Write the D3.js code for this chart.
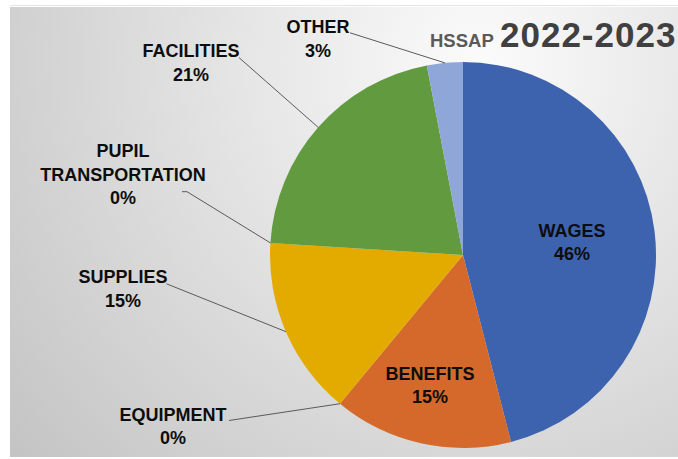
<!DOCTYPE html>
<html>
<head>
<meta charset="utf-8">
<script src="https://cdn.jsdelivr.net/npm/d3@7"></script>
<style>
  html, body { margin: 0; padding: 0; background: #ffffff; }
  svg { display: block; }
  .lbl { font-family: "Liberation Sans", Arial, sans-serif; font-weight: bold; font-size: 18px; fill: #0d0d0d; }
</style>
</head>
<body>
<svg id="chart" width="678" height="459"></svg>
<script>
// Budget categories, clockwise from 12 o'clock
const categories = ["WAGES", "BENEFITS", "EQUIPMENT", "SUPPLIES", "PUPIL TRANSPORTATION", "FACILITIES", "OTHER"];
// Share of the budget, percent
const shares = [46, 15, 0, 15, 0, 21, 3];
const sliceColors = ["#3d63ae", "#d4692b", "#a5a5a5", "#e3aa00", "#5b9bd5", "#629b3f", "#8ea6d8"];
const titleParts = ["HSSAP", "2022-2023"];

const W = 678, H = 459;
const cx = 463, cy = 255, R = 193;

// Label placement: anchor (centre x, first baseline), wrapped lines,
// and where the leader line leaves the label (relative to the anchor).
const labelLayout = {
  "WAGES":                { x: 572, y: 236.5, inside: true },
  "BENEFITS":             { x: 430, y: 380,   inside: true },
  "EQUIPMENT":            { x: 173, y: 420.5, lead: [56, 0] },
  "SUPPLIES":             { x: 123, y: 283.3, lead: [43.5, 0.5] },
  "PUPIL TRANSPORTATION": { x: 123, y: 157.3, lines: ["PUPIL", "TRANSPORTATION"], lead: [59, 34.4], elbow: 5 },
  "FACILITIES":           { x: 191, y: 57.3,  lead: [48, 0.3] },
  "OTHER":                { x: 318, y: 33.3,  lead: [32, -0.5] }
};
const lineGap = 23.4;

const svg = d3.select("#chart");

// Background panel with soft radial shading
const defs = svg.append("defs");
const grad = defs.append("radialGradient")
  .attr("id", "bg")
  .attr("gradientUnits", "userSpaceOnUse")
  .attr("cx", 480).attr("cy", 60).attr("r", 620);
grad.append("stop").attr("offset", 0).attr("stop-color", "#fbfbfb");
grad.append("stop").attr("offset", 1).attr("stop-color", "#c3c3c3");

svg.append("rect").attr("x", 0).attr("y", 0).attr("width", W).attr("height", H).attr("fill", "#ffffff");
svg.append("line").attr("x1", 10).attr("x2", W).attr("y1", 5.5).attr("y2", 5.5)
  .attr("stroke", "#e4e4e4").attr("stroke-width", 1);
svg.append("rect").attr("x", 10).attr("y", 7).attr("width", W - 10).attr("height", H - 9)
  .attr("fill", "url(#bg)");

// Pie
const data = categories.map((c, i) => ({ name: c, value: shares[i], color: sliceColors[i] }));
const pie = d3.pie().sort(null).value(d => d.value);
const arcs = pie(data);
const arc = d3.arc().innerRadius(0).outerRadius(R);

const g = svg.append("g").attr("transform", `translate(${cx},${cy})`);
g.selectAll("path.slice")
  .data(arcs.filter(a => a.data.value > 0))
  .join("path")
  .attr("class", "slice")
  .attr("d", arc)
  .attr("fill", d => d.data.color);

// Leader lines from outside labels to the middle of each slice's rim
const leaders = svg.append("g").attr("fill", "none").attr("stroke", "#5a5a5a").attr("stroke-width", 1);
arcs.forEach(a => {
  const L = labelLayout[a.data.name];
  if (L.inside) return;
  const mid = (a.startAngle + a.endAngle) / 2;
  const px = cx + R * Math.sin(mid), py = cy - R * Math.cos(mid);
  const sx = L.x + L.lead[0], sy = L.y + L.lead[1];
  const pts = [[sx, sy]];
  if (L.elbow) pts.push([sx + L.elbow, sy]);
  pts.push([px, py]);
  leaders.append("path").attr("d", d3.line()(pts));
});

// Category and percentage labels
const labels = svg.append("g");
arcs.forEach(a => {
  const L = labelLayout[a.data.name];
  const lines = (L.lines || [a.data.name]).concat([d3.format(".0f")(a.data.value) + "%"]);
  const t = labels.append("text").attr("class", "lbl").attr("text-anchor", "middle");
  lines.forEach((s, i) => {
    t.append("tspan").attr("x", L.x).attr("y", L.y + i * lineGap).text(s);
  });
});

// Title
const title = svg.append("text")
  .attr("y", 47)
  .attr("font-family", "'Liberation Sans', Arial, sans-serif")
  .attr("font-weight", "bold");
title.append("tspan").attr("x", 430).attr("font-size", 18.5).attr("fill", "#5a5a5a").text(titleParts[0]);
title.append("tspan").attr("x", 500).attr("font-size", 35).attr("letter-spacing", 1).attr("fill", "#404040").text(titleParts[1]);
</script>
</body>
</html>
